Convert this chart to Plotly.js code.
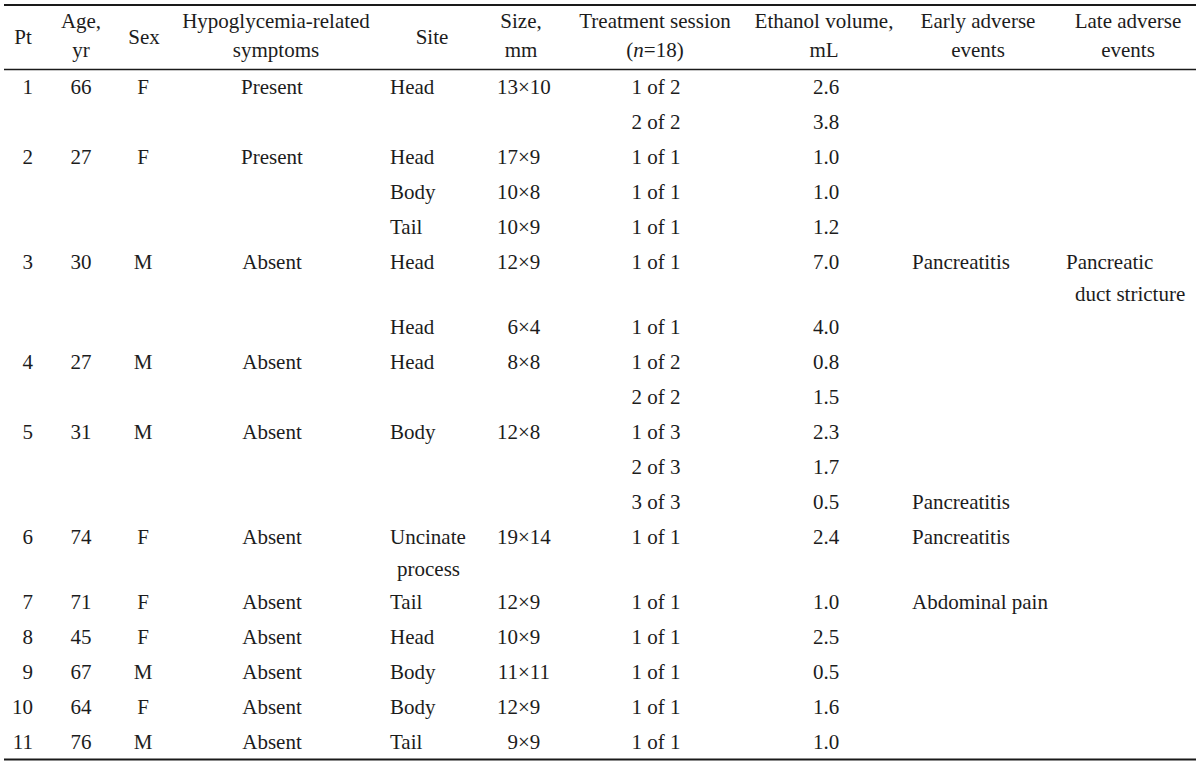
<!DOCTYPE html>
<html><head><meta charset="utf-8">
<script src="https://cdn.plot.ly/plotly-3.0.1.min.js"></script>
<style>html,body{margin:0;padding:0;background:#fff}#chart{width:1200px;height:764px}</style>
</head><body><div id="chart"></div>
<script>
// ---- data ----
const headers = ["Pt","Age,<br>yr","Sex","Hypoglycemia-related<br>symptoms","Site","Size,<br>mm","Treatment session<br>(<i>n</i>=18)","Ethanol volume,<br>mL","Early adverse<br>events","Late adverse<br>events"];
const patient = ["1","","2","","","3","","4","","5","","","6","7","8","9","10","11"];
const age = ["66","","27","","","30","","27","","31","","","74","71","45","67","64","76"];
const sex = ["F","","F","","","M","","M","","M","","","F","F","F","M","F","M"];
const symptoms = ["Present","","Present","","","Absent","","Absent","","Absent","","","Absent","Absent","Absent","Absent","Absent","Absent"];
const site = ["Head","","Head","Body","Tail","Head","Head","Head","","Body","","","Uncinate<br>process","Tail","Head","Body","Body","Tail"];
const sizeMm = ["13×10","","17×9","10×8","10×9","12×9","6×4","8×8","","12×8","","","19×14","12×9","10×9","11×11","12×9","9×9"];
const session = ["1 of 2","2 of 2","1 of 1","1 of 1","1 of 1","1 of 1","1 of 1","1 of 2","2 of 2","1 of 3","2 of 3","3 of 3","1 of 1","1 of 1","1 of 1","1 of 1","1 of 1","1 of 1"];
const ethanolMl = [2.6,3.8,1.0,1.0,1.2,7.0,4.0,0.8,1.5,2.3,1.7,0.5,2.4,1.0,2.5,0.5,1.6,1.0];
const earlyAE = ["","","","","","Pancreatitis","","","","","","Pancreatitis","Pancreatitis","Abdominal pain","","","",""];
const lateAE = ["","","","","","Pancreatic<br>duct stricture","","","","","","","","","","","",""];

// ---- layout helpers ----
const FONT = {family: "'Liberation Serif', 'Times New Roman', serif", size: 21, color: "#1c1c1c"};
const sizeLeft = sizeMm.map(s => s ? s.split("×")[0] : "");
const sizeRight = sizeMm.map(s => s ? "×" + s.split("×")[1] : "");
const ethanolTxt = ethanolMl.map(v => v.toFixed(1));

const columns = [
  {vals: patient,   x: 33,  pos: "middle left",   indent: 0},
  {vals: age,       x: 81,  pos: "middle center", indent: 0},
  {vals: sex,       x: 143, pos: "middle center", indent: 0},
  {vals: symptoms,  x: 272, pos: "middle center", indent: 0},
  {vals: site,      x: 390, pos: "middle right",  indent: 7},
  {vals: sizeLeft,  x: 518, pos: "middle left",   indent: 0},
  {vals: sizeRight, x: 518, pos: "middle right",  indent: 0},
  {vals: session,   x: 656, pos: "middle center", indent: 0},
  {vals: ethanolTxt,x: 826, pos: "middle center", indent: 0},
  {vals: earlyAE,   x: 912, pos: "middle right",  indent: 0},
  {vals: lateAE,    x: 1066,pos: "middle right",  indent: 9}
];
const headerX = [23, 81, 144, 276, 432, 521, 655, 824, 978, 1128];

const nRows = session.length;
const rowY = [];
let y = 89;
for (let i = 0; i < nRows; i++) {
  rowY.push(y);
  let n = 1;
  columns.forEach(c => { n = Math.max(n, String(c.vals[i]).split("<br>").length); });
  y += 35 + 30 * (n - 1);
}

const traces = [];
// header
(function(){
  const xs = [], ys = [], ts = [];
  headers.forEach((h, j) => {
    const lines = h.split("<br>");
    lines.forEach((ln, k) => {
      xs.push(headerX[j]);
      ys.push(lines.length === 1 ? 39 : 23 + 29 * k);
      ts.push(ln);
    });
  });
  traces.push({type: "scatter", mode: "text", x: xs, y: ys, text: ts,
    textposition: "middle center", textfont: FONT, hoverinfo: "skip", showlegend: false, cliponaxis: false});
})();
// body
columns.forEach(c => {
  const xs = [], ys = [], ts = [];
  c.vals.forEach((v, i) => {
    if (!v) return;
    String(v).split("<br>").forEach((ln, k) => {
      xs.push(c.x + (k > 0 ? c.indent : 0));
      ys.push(rowY[i] + 32 * k);
      ts.push(ln);
    });
  });
  traces.push({type: "scatter", mode: "text", x: xs, y: ys, text: ts,
    textposition: c.pos, textfont: FONT, hoverinfo: "skip", showlegend: false, cliponaxis: false});
});

const ruleColor = "#1a1a1a";
const layout = {
  width: 1200, height: 764,
  margin: {l: 0, r: 0, t: 0, b: 0},
  paper_bgcolor: "#ffffff", plot_bgcolor: "#ffffff",
  xaxis: {range: [0, 1200], visible: false, fixedrange: true},
  yaxis: {range: [764, 0], visible: false, fixedrange: true},
  showlegend: false,
  shapes: [
    {type: "line", xref: "x", yref: "y", x0: 4, x1: 1196, y0: 5, y1: 5, line: {color: ruleColor, width: 2}},
    {type: "line", xref: "x", yref: "y", x0: 4, x1: 1196, y0: 69.5, y1: 69.5, line: {color: ruleColor, width: 1.6}},
    {type: "line", xref: "x", yref: "y", x0: 4, x1: 1196, y0: 759.5, y1: 759.5, line: {color: ruleColor, width: 2}}
  ]
};
Plotly.newPlot("chart", traces, layout, {staticPlot: true, displayModeBar: false});
</script>
</body></html>
